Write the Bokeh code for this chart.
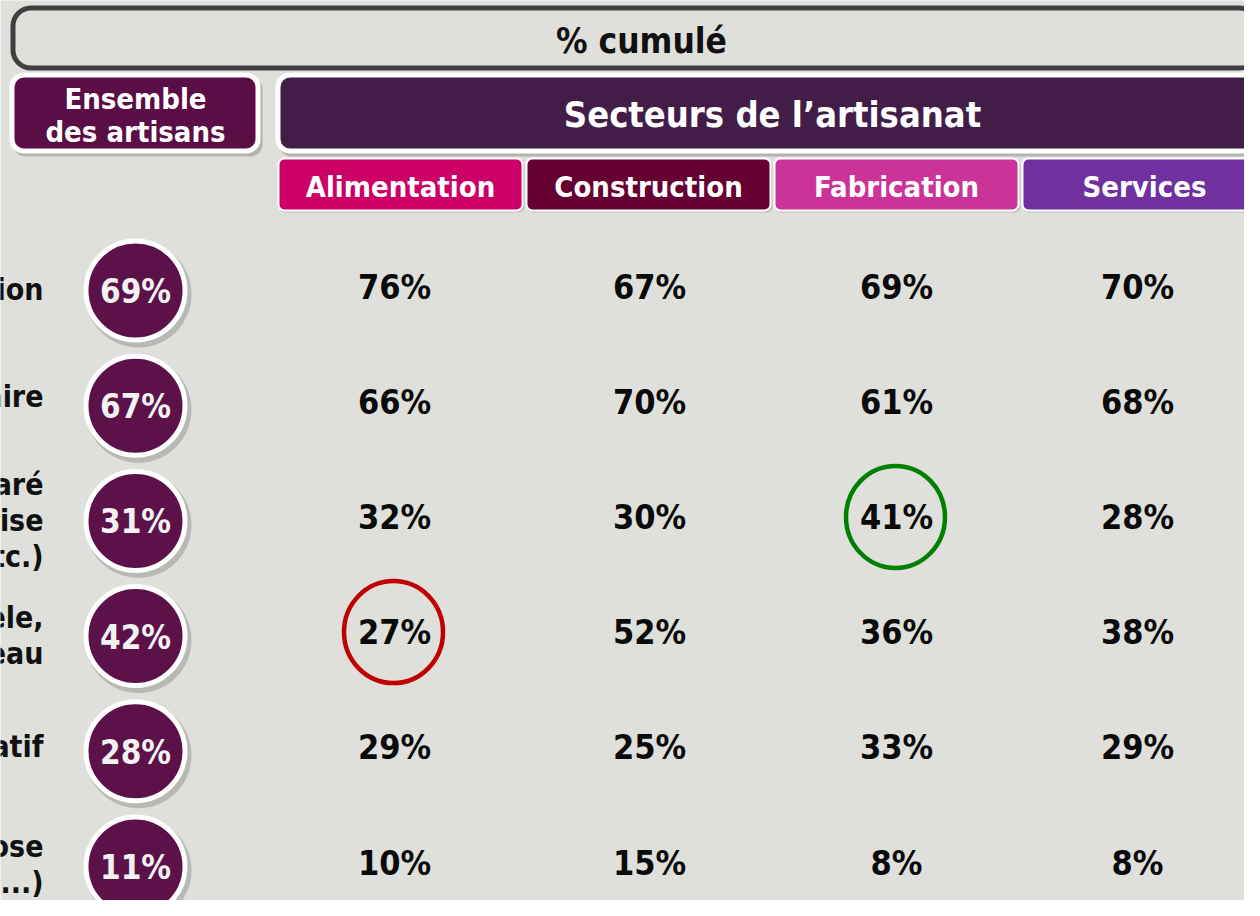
from bokeh.plotting import figure
from bokeh.models import Range1d, BoxAnnotation
from bokeh.core.properties import value
from bokeh.embed import file_html
from bokeh.resources import INLINE

# ---------------- data ----------------
title = "% cumulé"
ensemble_title = ["Ensemble", "des artisans"]
secteurs_title = "Secteurs de l\u2019artisanat"
sectors = ["Alimentation", "Construction", "Fabrication", "Services"]
sector_colors = ["#CC0066", "#660033", "#CC3399", "#7030A0"]
row_labels = [["ion"], ["aire"], ["aré", "rise", "tc.)"], ["èle,", "eau"], ["atif"], ["ose", "...)"]]
ensemble = [69, 67, 31, 42, 28, 11]
alimentation = [76, 66, 32, 27, 29, 10]
construction = [67, 70, 30, 52, 25, 15]
fabrication = [69, 61, 41, 36, 33, 8]
services = [70, 68, 28, 38, 29, 8]
highlight_good = ("Fabrication", 2)
highlight_bad = ("Alimentation", 3)

# ---------------- layout / style ----------------
BG = "#DFE0DB"
FONT = "DejaVu Sans Condensed"
W, H = 1244, 900
col_x = [394, 649, 896, 1137]
head_x = [400, 648, 896, 1144]
ens_x = 135
row_y0, row_step = 290, 115.2
label_dy = [-1, -9, 0, -1, -5, -2]
label_x = 43
line_h = 36

p = figure(width=W, height=H, x_range=Range1d(0, W), y_range=Range1d(H, 0),
           output_backend="svg", toolbar_location=None, min_border=0)
p.axis.visible = False
p.grid.visible = False
p.outline_line_color = None
p.background_fill_color = BG
p.border_fill_color = BG

def box(l, r, t, b, fill, line=None, lw=0, rad=0, alpha=1.0):
    p.add_layout(BoxAnnotation(left=l, right=r, top=t, bottom=b, fill_color=fill, fill_alpha=alpha,
                               line_color=line, line_alpha=1.0, line_width=lw,
                               border_radius=rad, level="underlay"))

# top frame
box(12.5, 1257, 7.5, 67.5, BG, "#404040", 5, 18)
# ensemble header (shadow + box)
box(13, 262, 77, 156, "#8F8F8B", None, 0, 12, 0.55)
box(11.5, 257.5, 74.5, 150.5, "#5A0E45", "white", 5, 12)
# secteurs header
box(279, 1270, 77, 156, "#8F8F8B", None, 0, 12, 0.55)
box(277.5, 1262, 74.5, 150.5, "#421D48", "white", 5, 12)
# sector sub-headers
for i, c in enumerate(sector_colors):
    l = 278 + i * 248
    box(l + 1, l + 246, 160, 212, "#A8A8A4", None, 0, 6, 0.6)
    box(l, l + 244, 158, 210, c, "white", 2, 6)

def txt(xs, ys, ts, size, color, align="center"):
    p.text(x=xs, y=ys, text=ts, text_font=value(FONT), text_font_style="bold",
           text_font_size=f"{size}px", text_color=color, text_align=align, text_baseline="middle")

txt([641], [40], [title], 35, "#111111")
txt([135, 135], [98, 131], ensemble_title, 29, "white")
txt([772], [114], [secteurs_title], 36, "white")
txt(head_x, [186] * 4, sectors, 29, "white")

rows_y = [row_y0 + i * row_step for i in range(len(ensemble))]

# left labels (cut off at the left edge, as in the original)
lx, ly, lt = [], [], []
for i, lines in enumerate(row_labels):
    n = len(lines)
    for j, s in enumerate(lines):
        lx.append(label_x)
        ly.append(rows_y[i] + label_dy[i] + (j - (n - 1) / 2) * line_h)
        lt.append(s)
txt(lx, ly, lt, 30, "#111111", "right")

# ensemble circles
p.circle(x=[ens_x + 3] * 6, y=[y + 4 for y in rows_y], radius=53, fill_color="#8A8A86",
         fill_alpha=0.45, line_color=None)
p.circle(x=[ens_x] * 6, y=rows_y, radius=49.5, fill_color="#5C1249", line_color="white", line_width=5)
txt([ens_x] * 6, [y + 1 for y in rows_y], [f"{v}%" for v in ensemble], 33, "#F2F2F2")

# sector values
series = [alimentation, construction, fabrication, services]
vx, vy, vt = [], [], []
for ci, s in enumerate(series):
    for ri, v in enumerate(s):
        vx.append(col_x[ci]); vy.append(rows_y[ri] - 4); vt.append(f"{v}%")
txt(vx, vy, vt, 34, "#0A0A0A")

# highlights
for (name, ri), col in [(highlight_good, "#008000"), (highlight_bad, "#C00000")]:
    ci = sectors.index(name)
    p.ellipse(x=[col_x[ci] - 1], y=[rows_y[ri] - 4], width=99, height=102,
              fill_color=None, line_color=col, line_width=4.5)

open("out.html", "w").write(file_html(p, INLINE))
